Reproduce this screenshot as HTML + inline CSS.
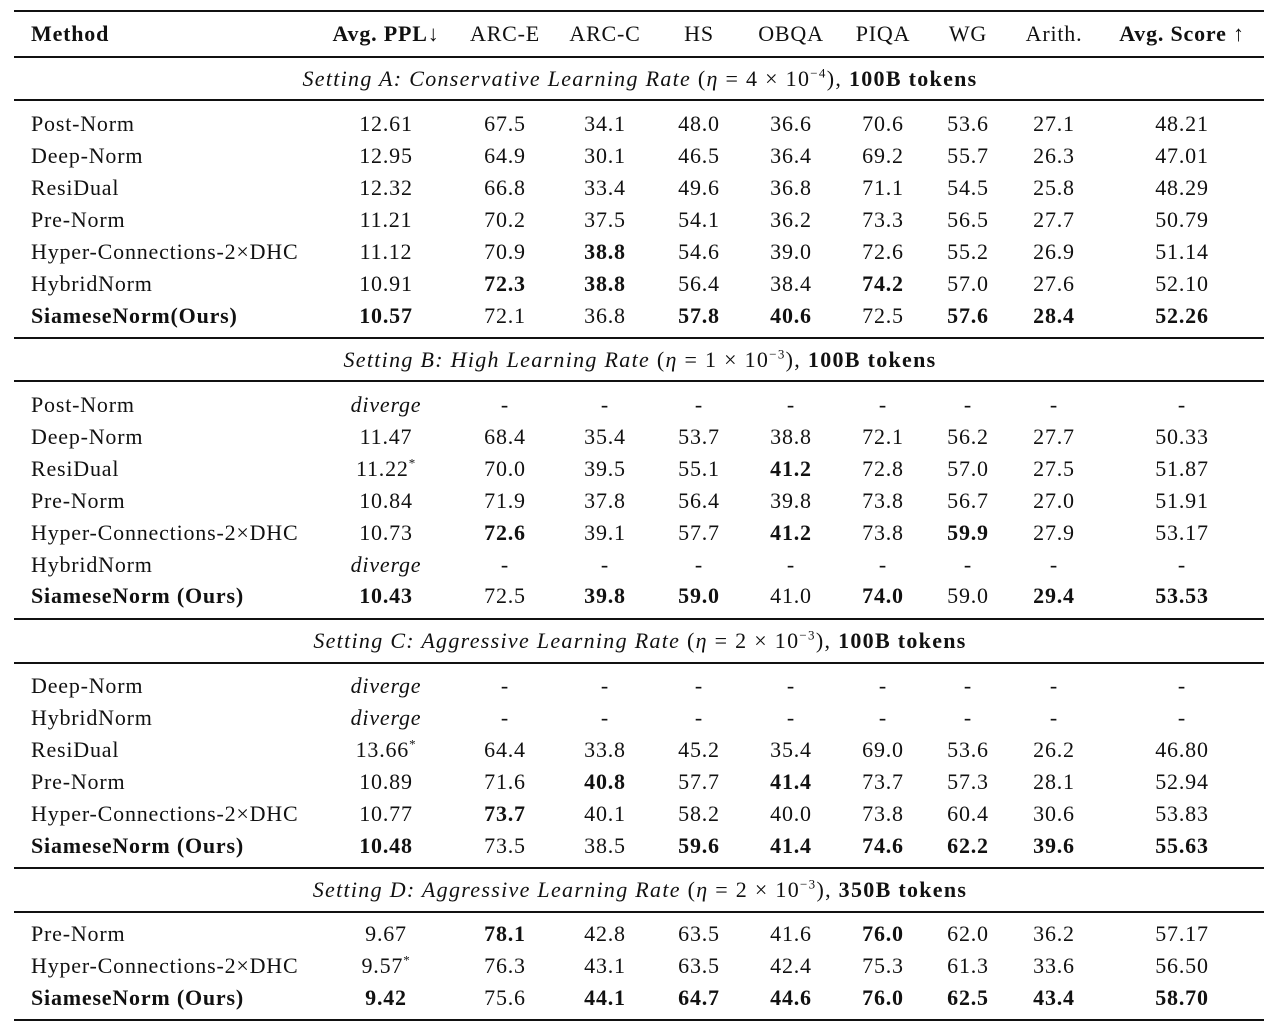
<!DOCTYPE html>
<html><head><meta charset="utf-8"><style>
body{margin:0;width:1280px;height:1033px;background:#fff;position:relative;font-family:"Liberation Serif",serif;font-size:22px;color:#111;overflow:hidden}
.r{position:absolute;left:0;width:1280px;height:30px;line-height:30px;letter-spacing:0.8px}
.r span{position:absolute;top:0;width:110px;text-align:center;white-space:nowrap}
.r span.m{left:31px;width:320px;text-align:left}
.r span:nth-child(2){left:331px}.r span:nth-child(3){left:450px}.r span:nth-child(4){left:550px}
.r span:nth-child(5){left:644px}.r span:nth-child(6){left:736px}.r span:nth-child(7){left:828px}
.r span:nth-child(8){left:913px}.r span:nth-child(9){left:999px}.r span:nth-child(10){left:1102px;width:160px}
.hl{position:absolute;left:14px;width:1250px;background:#111}
.t{position:absolute;left:0;width:1280px;text-align:center;height:30px;line-height:30px;letter-spacing:1.3px}
b{font-weight:bold}i{font-style:italic}
sup{font-size:13px;line-height:0}
</style></head><body>
<div class="hl" style="top:10px;height:2px"></div>
<div class="r" style="top:19px"><span class="m"><b>Method</b></span><span><b>Avg. PPL</b>↓</span><span>ARC-E</span><span>ARC-C</span><span>HS</span><span>OBQA</span><span>PIQA</span><span>WG</span><span>Arith.</span><span><b>Avg. Score</b> ↑</span></div>
<div class="hl" style="top:56px;height:1.5px"></div>
<div class="t" style="top:64px"><i>Setting A: Conservative Learning Rate</i> (<i>η</i> = 4 × 10<sup>−4</sup>), <b>100B tokens</b></div>
<div class="hl" style="top:99px;height:1.5px"></div>
<div class="r" style="top:109px"><span class="m">Post-Norm</span><span>12.61</span><span>67.5</span><span>34.1</span><span>48.0</span><span>36.6</span><span>70.6</span><span>53.6</span><span>27.1</span><span>48.21</span></div>
<div class="r" style="top:141px"><span class="m">Deep-Norm</span><span>12.95</span><span>64.9</span><span>30.1</span><span>46.5</span><span>36.4</span><span>69.2</span><span>55.7</span><span>26.3</span><span>47.01</span></div>
<div class="r" style="top:173px"><span class="m">ResiDual</span><span>12.32</span><span>66.8</span><span>33.4</span><span>49.6</span><span>36.8</span><span>71.1</span><span>54.5</span><span>25.8</span><span>48.29</span></div>
<div class="r" style="top:205px"><span class="m">Pre-Norm</span><span>11.21</span><span>70.2</span><span>37.5</span><span>54.1</span><span>36.2</span><span>73.3</span><span>56.5</span><span>27.7</span><span>50.79</span></div>
<div class="r" style="top:237px"><span class="m">Hyper-Connections-2×DHC</span><span>11.12</span><span>70.9</span><span><b>38.8</b></span><span>54.6</span><span>39.0</span><span>72.6</span><span>55.2</span><span>26.9</span><span>51.14</span></div>
<div class="r" style="top:269px"><span class="m">HybridNorm</span><span>10.91</span><span><b>72.3</b></span><span><b>38.8</b></span><span>56.4</span><span>38.4</span><span><b>74.2</b></span><span>57.0</span><span>27.6</span><span>52.10</span></div>
<div class="r" style="top:301px"><span class="m"><b>SiameseNorm(Ours)</b></span><span><b>10.57</b></span><span>72.1</span><span>36.8</span><span><b>57.8</b></span><span><b>40.6</b></span><span>72.5</span><span><b>57.6</b></span><span><b>28.4</b></span><span><b>52.26</b></span></div>
<div class="hl" style="top:337px;height:1.5px"></div>
<div class="t" style="top:345px"><i>Setting B: High Learning Rate</i> (<i>η</i> = 1 × 10<sup>−3</sup>), <b>100B tokens</b></div>
<div class="hl" style="top:380px;height:1.5px"></div>
<div class="r" style="top:390px"><span class="m">Post-Norm</span><span><i>diverge</i></span><span>-</span><span>-</span><span>-</span><span>-</span><span>-</span><span>-</span><span>-</span><span>-</span></div>
<div class="r" style="top:422px"><span class="m">Deep-Norm</span><span>11.47</span><span>68.4</span><span>35.4</span><span>53.7</span><span>38.8</span><span>72.1</span><span>56.2</span><span>27.7</span><span>50.33</span></div>
<div class="r" style="top:454px"><span class="m">ResiDual</span><span>11.22<sup>*</sup></span><span>70.0</span><span>39.5</span><span>55.1</span><span><b>41.2</b></span><span>72.8</span><span>57.0</span><span>27.5</span><span>51.87</span></div>
<div class="r" style="top:486px"><span class="m">Pre-Norm</span><span>10.84</span><span>71.9</span><span>37.8</span><span>56.4</span><span>39.8</span><span>73.8</span><span>56.7</span><span>27.0</span><span>51.91</span></div>
<div class="r" style="top:518px"><span class="m">Hyper-Connections-2×DHC</span><span>10.73</span><span><b>72.6</b></span><span>39.1</span><span>57.7</span><span><b>41.2</b></span><span>73.8</span><span><b>59.9</b></span><span>27.9</span><span>53.17</span></div>
<div class="r" style="top:550px"><span class="m">HybridNorm</span><span><i>diverge</i></span><span>-</span><span>-</span><span>-</span><span>-</span><span>-</span><span>-</span><span>-</span><span>-</span></div>
<div class="r" style="top:581px"><span class="m"><b>SiameseNorm (Ours)</b></span><span><b>10.43</b></span><span>72.5</span><span><b>39.8</b></span><span><b>59.0</b></span><span>41.0</span><span><b>74.0</b></span><span>59.0</span><span><b>29.4</b></span><span><b>53.53</b></span></div>
<div class="hl" style="top:618px;height:1.5px"></div>
<div class="t" style="top:626px"><i>Setting C: Aggressive Learning Rate</i> (<i>η</i> = 2 × 10<sup>−3</sup>), <b>100B tokens</b></div>
<div class="hl" style="top:662px;height:1.5px"></div>
<div class="r" style="top:671px"><span class="m">Deep-Norm</span><span><i>diverge</i></span><span>-</span><span>-</span><span>-</span><span>-</span><span>-</span><span>-</span><span>-</span><span>-</span></div>
<div class="r" style="top:703px"><span class="m">HybridNorm</span><span><i>diverge</i></span><span>-</span><span>-</span><span>-</span><span>-</span><span>-</span><span>-</span><span>-</span><span>-</span></div>
<div class="r" style="top:735px"><span class="m">ResiDual</span><span>13.66<sup>*</sup></span><span>64.4</span><span>33.8</span><span>45.2</span><span>35.4</span><span>69.0</span><span>53.6</span><span>26.2</span><span>46.80</span></div>
<div class="r" style="top:767px"><span class="m">Pre-Norm</span><span>10.89</span><span>71.6</span><span><b>40.8</b></span><span>57.7</span><span><b>41.4</b></span><span>73.7</span><span>57.3</span><span>28.1</span><span>52.94</span></div>
<div class="r" style="top:799px"><span class="m">Hyper-Connections-2×DHC</span><span>10.77</span><span><b>73.7</b></span><span>40.1</span><span>58.2</span><span>40.0</span><span>73.8</span><span>60.4</span><span>30.6</span><span>53.83</span></div>
<div class="r" style="top:831px"><span class="m"><b>SiameseNorm (Ours)</b></span><span><b>10.48</b></span><span>73.5</span><span>38.5</span><span><b>59.6</b></span><span><b>41.4</b></span><span><b>74.6</b></span><span><b>62.2</b></span><span><b>39.6</b></span><span><b>55.63</b></span></div>
<div class="hl" style="top:867px;height:1.5px"></div>
<div class="t" style="top:875px"><i>Setting D: Aggressive Learning Rate</i> (<i>η</i> = 2 × 10<sup>−3</sup>), <b>350B tokens</b></div>
<div class="hl" style="top:911px;height:1.5px"></div>
<div class="r" style="top:919px"><span class="m">Pre-Norm</span><span>9.67</span><span><b>78.1</b></span><span>42.8</span><span>63.5</span><span>41.6</span><span><b>76.0</b></span><span>62.0</span><span>36.2</span><span>57.17</span></div>
<div class="r" style="top:951px"><span class="m">Hyper-Connections-2×DHC</span><span>9.57<sup>*</sup></span><span>76.3</span><span>43.1</span><span>63.5</span><span>42.4</span><span>75.3</span><span>61.3</span><span>33.6</span><span>56.50</span></div>
<div class="r" style="top:983px"><span class="m"><b>SiameseNorm (Ours)</b></span><span><b>9.42</b></span><span>75.6</span><span><b>44.1</b></span><span><b>64.7</b></span><span><b>44.6</b></span><span><b>76.0</b></span><span><b>62.5</b></span><span><b>43.4</b></span><span><b>58.70</b></span></div>
<div class="hl" style="top:1019px;height:2px"></div>
</body></html>
